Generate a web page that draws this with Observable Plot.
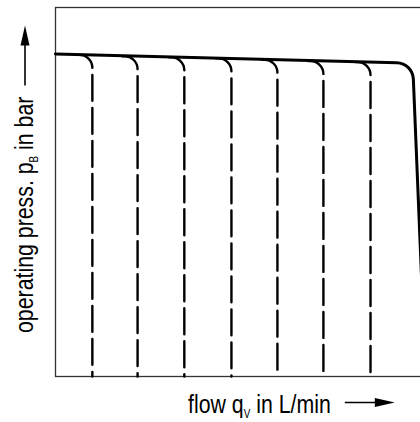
<!DOCTYPE html>
<html>
<head>
<meta charset="utf-8">
<script src="https://cdn.jsdelivr.net/npm/d3@7"></script>
<script src="https://cdn.jsdelivr.net/npm/@observablehq/plot@0.6"></script>
<style>
  html, body { margin: 0; padding: 0; overflow: hidden; background: white; }
  svg { max-width: none !important; display: block; }
</style>
</head>
<body>
<script>
// Pump characteristic (solid): flow in % of span, pressure in % of span
const pumpFlow = [0, 94.0, 97.4];
const pumpPress = [87.4, 84.9, 0];

// Pressure-relief settings (dashed verticals): flow where each curve drops, pressure there
const valveFlow = [9.7, 21.6, 33.9, 46.3, 58.4, 70.5, 82.9];
const valvePress = [87.15, 86.8, 86.5, 86.2, 85.85, 85.5, 85.2];

const xLabel = ["flow q", "V", " in L/min"];
const yLabel = ["operating press. p", "B", " in bar"];

const FONT = "'Liberation Sans', Arial, sans-serif";
const NARROW = 0.82;

// custom d3 curve: straight segments joined with rounded corners of fixed radius
function rounded(r) {
  return function(context) {
    let pts = [];
    return {
      areaStart() {}, areaEnd() {},
      lineStart() { pts = []; },
      point(x, y) { pts.push([+x, +y]); },
      lineEnd() {
        if (!pts.length) return;
        context.moveTo(pts[0][0], pts[0][1]);
        for (let i = 1; i < pts.length - 1; i++) {
          context.arcTo(pts[i][0], pts[i][1], pts[i + 1][0], pts[i + 1][1], r);
        }
        const l = pts[pts.length - 1];
        context.lineTo(l[0], l[1]);
      }
    };
  };
}

const pumpRows = pumpFlow.map((x, i) => ({x, y: pumpPress[i]}));
const valveRows = valveFlow.flatMap((x, i) => [
  {id: i, x: x - 4, y: valvePress[i]},
  {id: i, x: x, y: valvePress[i]},
  {id: i, x: x, y: 0}
]);

const svg = Plot.plot({
  width: 440, height: 422,
  marginLeft: 55, marginRight: 5, marginTop: 7, marginBottom: 46,
  x: {domain: [0, 100], axis: null},
  y: {domain: [0, 100], axis: null},
  style: {background: "white", maxWidth: "none"},
  marks: [
    Plot.frame({stroke: "#333", strokeWidth: 1.3}),
    Plot.line(valveRows, {x: "x", y: "y", z: "id", stroke: "black", strokeWidth: 2.4,
      strokeDasharray: "26,7", strokeDashoffset: 3.6, curve: rounded(13)}),
    Plot.line(pumpRows, {x: "x", y: "y", stroke: "black", strokeWidth: 3, curve: rounded(17)})
  ]
});
document.body.appendChild(svg);

const root = d3.select(svg).append("g")
  .attr("font-family", FONT).attr("font-size", 26).attr("fill", "black")
  .attr("text-anchor", "start");

function label(g, parts) {
  const t = g.append("g").attr("transform", `scale(${NARROW},1)`).append("text")
    .attr("text-anchor", "start");
  t.append("tspan").text(parts[0]);
  t.append("tspan").attr("font-size", 12).attr("dy", 5).text(parts[1]);
  t.append("tspan").attr("dy", -5).text(parts[2]);
  return t.node().getComputedTextLength() * NARROW;
}

// x label
const gx = root.append("g").attr("transform", "translate(188,413)");
const wx = label(gx, xLabel);
const ax = gx.append("g").attr("transform", `translate(${wx + 14},-10.5)`);
ax.append("line").attr("x1", 0).attr("x2", 32).attr("stroke", "black").attr("stroke-width", 1.6);
ax.append("path").attr("d", "M30,-4.5L50,0L30,4.5Z").attr("fill", "black");

// y label
const gy = root.append("g").attr("transform", "translate(33,333) rotate(-90)");
const wy = label(gy, yLabel);
const ay = gy.append("g").attr("transform", `translate(${wy + 11},-8)`);
ay.append("line").attr("x1", 0).attr("x2", 42).attr("stroke", "black").attr("stroke-width", 1.6);
ay.append("path").attr("d", "M40,-4.5L60,0L40,4.5Z").attr("fill", "black");
</script>
</body>
</html>
